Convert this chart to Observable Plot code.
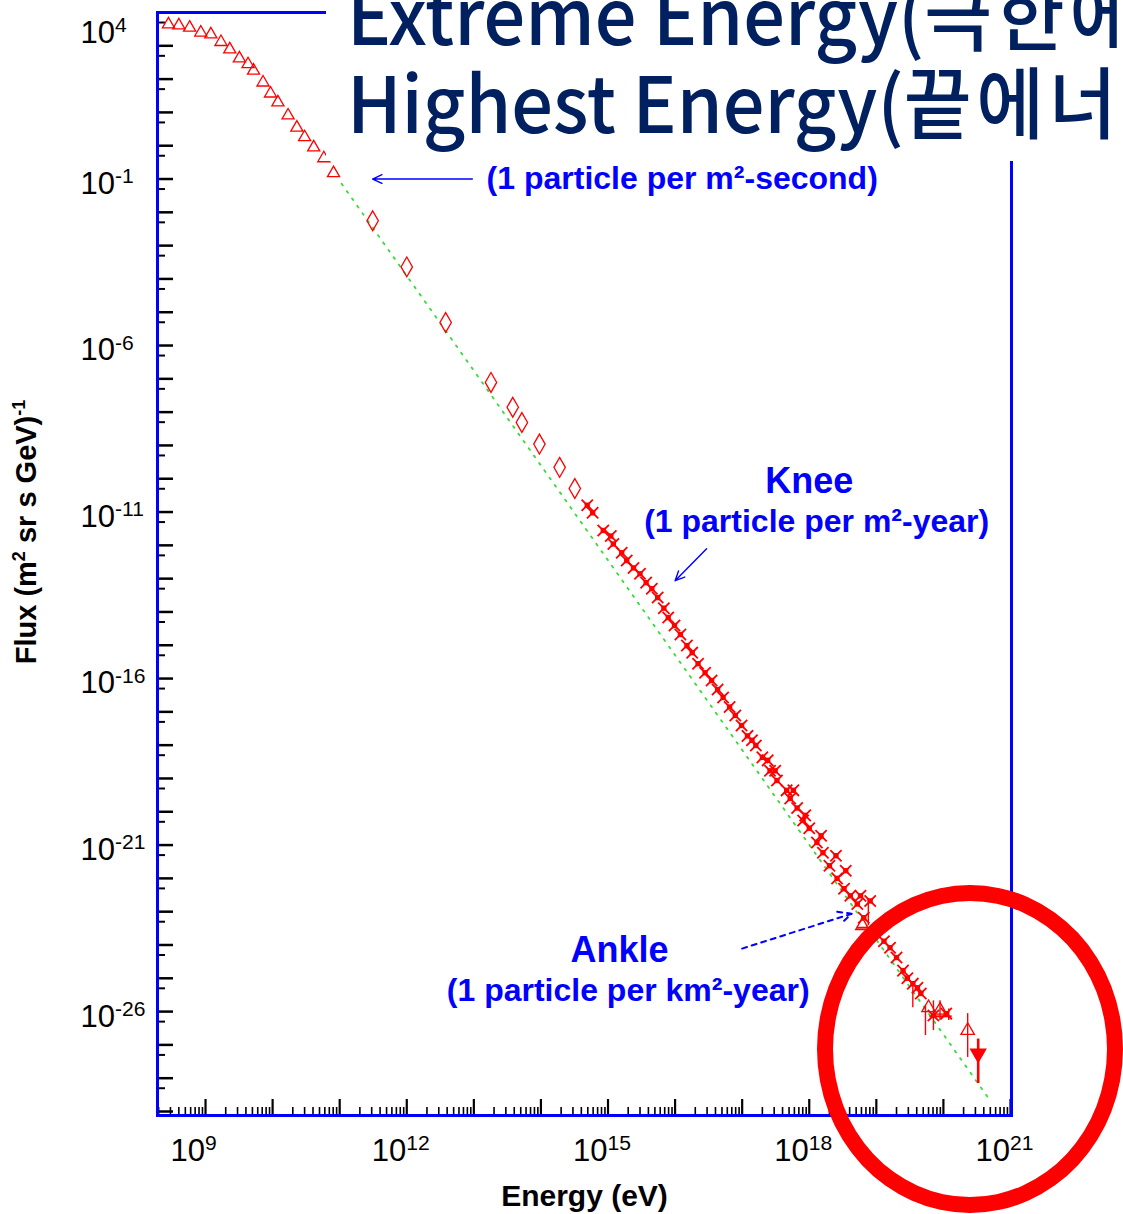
<!DOCTYPE html>
<html>
<head>
<meta charset="utf-8">
<script src="https://cdn.jsdelivr.net/npm/d3@7"></script>
<script src="https://cdn.jsdelivr.net/npm/@observablehq/plot@0.6"></script>
<style>
html, body { margin: 0; padding: 0; background: #fff; overflow: hidden; }
#wrap { position: relative; width: 1123px; height: 1214px; overflow: hidden; }
#chart { position: absolute; left: 0; top: 0; }
#title { position: absolute; left: 326px; top: 0; width: 797px; height: 161px; background: #fff; overflow: hidden; }
#title div { position: absolute; left: 21px; white-space: nowrap; font-family: "Noto Sans CJK KR", sans-serif; font-weight: 500; font-size: 78px; line-height: 88px; color: #002060; transform: scaleX(0.945); transform-origin: 0 0; }
#title span.ko { letter-spacing: 5px; }
#ring { position: absolute; left: 817px; top: 885px; width: 306px; height: 328px; box-sizing: border-box; border: 16px solid #ff0000; border-radius: 50%; }
</style>
</head>
<body>
<div id="wrap">
  <div id="chart"></div>
  <div id="title">
    <div style="top:-33px">Extreme Energy(<span class="ko">극한에너지</span>)</div>
    <div style="top:55px">Highest Energy(<span class="ko">끝에너지</span>)</div>
  </div>
  <div id="ring"></div>
</div>
<script>
// ---------- data ----------
// low-energy measurements (open triangles)
const triE = [2.8e8, 4.0e8, 5.8e8, 8.5e8, 1.2e9, 1.7e9, 2.3e9, 3.2e9, 4.3e9, 5.2e9, 7.2e9, 9.3e9, 1.2e10, 1.7e10, 2.3e10, 3.0e10, 4.1e10, 5.8e10, 8.1e10];
const triF = [4.4e3, 4.1e3, 3.5e3, 2.5e3, 2.2e3, 1.3e3, 7.8e2, 4.2e2, 2.8e2, 1.8e2, 79, 37, 20, 8.1, 3.5, 1.8, 0.89, 0.42, 0.15];
// direct measurements (open diamonds)
const diaE = [3.1e11, 1.0e12, 3.8e12, 1.8e13, 3.8e13, 5.2e13, 9.5e13, 1.9e14, 3.2e14];
const diaF = [5.6e-3, 2.3e-4, 4.9e-6, 7.8e-8, 1.4e-8, 4.9e-9, 1.1e-9, 2.2e-10, 5.1e-11];
// air-shower measurements (stars)
const starE = [4.9e14, 5.9e14, 8.5e14, 1.1e15, 1.2e15, 1.6e15, 1.9e15, 2.4e15, 3.0e15, 3.7e15, 4.5e15, 5.5e15, 6.8e15, 7.9e15, 9.8e15,
  1.2e16, 1.5e16, 1.8e16, 2.2e16, 2.8e16, 3.5e16, 4.3e16, 5.2e16, 6.5e16, 7.9e16, 9.8e16,
  1.2e17, 1.6e17, 2.0e17, 2.6e17, 3.3e17, 4.6e17, 5.2e17, 6.6e17, 8.1e17,
  1.0e18, 1.3e18, 1.6e18, 2.0e18, 2.6e18, 3.3e18, 4.1e18, 5.2e18, 6.5e18,
  1.3e19, 1.6e19, 2.0e19, 2.5e19, 2.9e19, 3.5e19, 4.1e19, 4.6e19, 7.1e19, 1.1e20];
const starF = [1.6e-11, 9.5e-12, 2.8e-12, 1.9e-12, 1.1e-12, 6.0e-13, 3.5e-13, 2.1e-13, 1.4e-13, 7.6e-14, 5.0e-14, 2.7e-14, 1.3e-14, 6.8e-15, 3.9e-15,
  2.1e-15, 9.8e-16, 6.0e-16, 2.8e-16, 1.5e-16, 8.7e-17, 4.7e-17, 2.7e-17, 1.4e-17, 7.8e-18, 3.9e-18,
  1.9e-18, 9.8e-19, 4.3e-19, 1.7e-19, 8.7e-20, 4.4e-20, 2.5e-20, 1.3e-20, 5.5e-21,
  3.2e-21, 1.2e-21, 5.9e-22, 2.4e-22, 1.0e-22, 4.9e-23, 3.0e-23, 1.7e-23, 6.6e-24,
  1.3e-24, 8.3e-25, 4.2e-25, 1.7e-25, 1.0e-25, 6.9e-26, 5.2e-26, 3.5e-26, 7.6e-27, 8.7e-27];
// second set of air-shower points in the dense band
const bandE = [1.4e17, 2.4e17, 3.1e17, 5.8e17, 8.7e17, 1.5e18, 2.5e18, 3.5e18, 5.8e18, 8.1e18];
const bandF = [1.4e-18, 3.5e-19, 1.7e-19, 4.4e-20, 7.8e-21, 1.9e-21, 4.8e-22, 1.7e-22, 3.0e-23, 2.1e-23];
// highest-energy open triangles and the last (filled) point
const hiTriE = [6.2e18, 6.0e19, 8.9e19, 2.3e20];
const hiTriF = [3.8e-24, 1.3e-26, 1.1e-26, 2.7e-27];
const lastE = [3.3e20];
const lastF = [5.5e-28];
// vertical error bars
const errE  = [7.6e18, 3.5e19, 5.4e19, 7.1e19, 8.9e19, 1.2e20, 2.3e20];
const errHi = [2.5e-23, 6.9e-26, 1.5e-26, 2.1e-26, 2.1e-26, 1.2e-26, 8.7e-27];
const errLo = [3.8e-24, 1.3e-26, 1.9e-27, 2.7e-27, 5.4e-27, 5.4e-27, 4.2e-28];
const lastErrHi = [1.5e-27];
const lastErrLo = [6.9e-29];
// horizontal error bars
const hErrE1 = [5.2e18, 6.3e19];
const hErrE2 = [7.4e18, 1.35e20];
const hErrF  = [3.3e-24, 7.2e-27];
// power-law reference line (green)
const fitE = [1.07e11, 5.0e20];
const fitF = [7.2e-2, 2.1e-29];

// annotations
const noteText = ["(1 particle per m²-second)", "Knee", "(1 particle per m²-year)", "Ankle", "(1 particle per km²-year)"];
const noteE = [1.55e13, 1.0e18, 1.29e18, 1.48e15, 2.0e15];
const noteF = [1e-1, 8.3e-11, 5.1e-12, 6.8e-25, 4.3e-26];
const arrowX1 = [9.5e12, 2.95e16, 1.0e17];
const arrowY1 = [1e-1, 7.9e-13, 7.8e-25];
const arrowX2 = [3.1e11, 1.0e16, 4.3e18];
const arrowY2 = [1e-1, 8.7e-14, 8.7e-24];

// axis tick labels
const xLabelTicks = [1e9, 1e12, 1e15, 1e18, 1e21];
const yLabelTicks = [1e4, 1e-1, 1e-6, 1e-11, 1e-16, 1e-21, 1e-26];
const xTitle = "Energy (eV)";
const yTitle = "Flux (m^2 sr s GeV)^-1";

// ---------- build ----------
const zip = (xs, ys) => xs.map((x, i) => ({x, y: ys[i]}));
const triangles = zip(triE, triF);
const diamonds = zip(diaE, diaF);
const stars = zip(starE, starF).concat(zip(bandE, bandF));
const hiTri = zip(hiTriE, hiTriF);
const last = zip(lastE, lastF);
const errs = errE.map((x, i) => ({x, y1: errLo[i], y2: errHi[i]}));
const lastErr = lastE.map((x, i) => ({x, y1: lastErrLo[i], y2: lastErrHi[i]}));
const hErrs = hErrE1.map((x1, i) => ({x1, x2: hErrE2[i], y: hErrF[i]}));
const fit = zip(fitE, fitF);
const notes = noteText.map((t, i) => ({t, x: noteE[i], y: noteF[i]}));
const arrows = arrowX1.map((x1, i) => ({x1, y1: arrowY1[i], x2: arrowX2[i], y2: arrowY2[i], dashed: i === 2}));

const xDomain = [10 ** 8.284, 10 ** 21.015];
const yDomain = [10 ** -29.12, 1e4];
const inX = v => v >= xDomain[0] * 0.999 && v <= xDomain[1] * 1.001;
const inY = v => v >= yDomain[0] * 0.999 && v <= yDomain[1] * 1.001;
const yMajor = d3.range(-29, 5).map(p => 10 ** p).filter(inY);
const yMinor = d3.range(-30, 4).map(p => 5 * 10 ** p).filter(inY);
const xMajor = d3.range(9, 22).map(p => 10 ** p).filter(inX);
const xMinor = d3.range(8, 21).flatMap(p => d3.range(2, 10).map(k => k * 10 ** p)).filter(inX);
const fmt = d => "10^" + Math.round(Math.log10(d));

const RED = "#ff0000", BLUE = "#0000ff";

const plot = Plot.plot({
  width: 1123,
  height: 1214,
  marginLeft: 157,
  marginRight: 112,
  marginTop: 12,
  marginBottom: 99,
  x: {type: "log", domain: xDomain, axis: null},
  y: {type: "log", domain: yDomain, axis: null},
  style: {fontFamily: "'Liberation Sans', Arial, sans-serif", fontSize: "31px", background: "white", color: "black", overflow: "visible"},
  marks: [
    // ticks (inward)
    Plot.axisY(yMajor, {anchor: "left", tickSize: -16, strokeWidth: 2.5, fill: "none"}),
    Plot.axisY(yMinor, {anchor: "left", tickSize: -8, strokeWidth: 2, fill: "none"}),
    Plot.axisX(xMajor, {anchor: "bottom", tickSize: -16, strokeWidth: 2.2, fill: "none"}),
    Plot.axisX(xMinor, {anchor: "bottom", tickSize: -8, strokeWidth: 1.6, fill: "none"}),
    // tick labels + titles
    Plot.axisY(yLabelTicks, {anchor: "left", tickSize: 0, tickPadding: 77, textAnchor: "start", dy: 5, tickFormat: fmt, label: yTitle, labelAnchor: "center", labelOffset: 142, labelArrow: "none"}),
    Plot.axisX(xLabelTicks, {anchor: "bottom", tickSize: 0, tickPadding: 23, textAnchor: "start", dx: -35, tickFormat: fmt, label: xTitle, labelAnchor: "center", labelOffset: 90, labelArrow: "none"}),
    // reference power law
    Plot.line(fit, {x: "x", y: "y", stroke: "#33dd33", strokeWidth: 1.8, strokeDasharray: "2,7"}),
    // data
    Plot.ruleX(errs, {x: "x", y1: "y1", y2: "y2", stroke: RED, strokeWidth: 1.4}),
    Plot.ruleX(lastErr, {x: "x", y1: "y1", y2: "y2", stroke: RED, strokeWidth: 2.6}),
    Plot.ruleY(hErrs, {x1: "x1", x2: "x2", y: "y", stroke: RED, strokeWidth: 2}),
    Plot.dot(triangles, {x: "x", y: "y", symbol: "triangle", r: 4.5, stroke: RED, fill: "none", strokeWidth: 1.3}),
    Plot.dot(diamonds, {x: "x", y: "y", symbol: "diamond", r: 6, stroke: RED, fill: "none", strokeWidth: 1.3}),
    Plot.dot(stars, {x: "x", y: "y", symbol: "square", r: 3, fill: RED, stroke: "none"}),
    Plot.dot(stars, {x: "x", y: "y", symbol: "times", r: 5.2, stroke: RED, strokeWidth: 1.8}),
    Plot.dot(hiTri, {x: "x", y: "y", symbol: "triangle", r: 5, stroke: RED, fill: "none", strokeWidth: 1.3}),
    Plot.dot(last, {x: "x", y: "y", symbol: "triangle", r: 5.5, fill: RED, stroke: RED, rotate: 180}),
    // frame
    Plot.frame({stroke: BLUE, strokeWidth: 3}),
    // annotations
    Plot.arrow(arrows.filter(d => !d.dashed), {x1: "x1", y1: "y1", x2: "x2", y2: "y2", stroke: BLUE, strokeWidth: 1.4, headLength: 11, headAngle: 50, inset: 0}),
    Plot.arrow(arrows.filter(d => d.dashed), {x1: "x1", y1: "y1", x2: "x2", y2: "y2", stroke: BLUE, strokeWidth: 2, headLength: 11, headAngle: 50, inset: 0, strokeDasharray: "5,5"}),
    Plot.text(notes.filter((d, i) => i === 0), {x: "x", y: "y", text: "t", textAnchor: "start", fill: BLUE, fontWeight: "bold", fontSize: 32}),
    Plot.text(notes.filter((d, i) => i === 1 || i === 3), {x: "x", y: "y", text: "t", textAnchor: "middle", fill: BLUE, fontWeight: "bold", fontSize: 36}),
    Plot.text(notes.filter((d, i) => i === 2 || i === 4), {x: "x", y: "y", text: "t", textAnchor: "middle", fill: BLUE, fontWeight: "bold", fontSize: 32})
  ]
});

document.getElementById("chart").appendChild(plot);

// superscripts for tick labels
const svg = d3.select(plot);
svg.selectAll('g[aria-label="y-axis tick label"] text, g[aria-label="x-axis tick label"] text').each(function () {
  const t = d3.select(this);
  const s = t.text();
  if (!s.includes("^")) return;
  const [b, e] = s.split("^");
  t.text(b);
  t.append("tspan").attr("dy", "-0.52em").attr("font-size", "0.68em").text(e);
  if (e === "4") {
    const tr = t.attr("transform") || "";
    t.attr("transform", tr + " translate(0,16)");
  }
});
// axis titles
svg.selectAll('g[aria-label="y-axis label"] text').each(function () {
  const t = d3.select(this);
  t.text("").attr("font-weight", "bold").attr("font-size", "29px").attr("dx", 32);
  t.append("tspan").text("Flux (m");
  t.append("tspan").attr("dy", -11).attr("font-size", "18px").text("2");
  t.append("tspan").attr("dy", 11).text(" sr s GeV)");
  t.append("tspan").attr("dy", -11).attr("font-size", "18px").text("-1");
});
svg.selectAll('g[aria-label="x-axis label"] text').each(function () {
  d3.select(this).attr("font-weight", "bold").attr("font-size", "30px");
});
</script>
</body>
</html>
